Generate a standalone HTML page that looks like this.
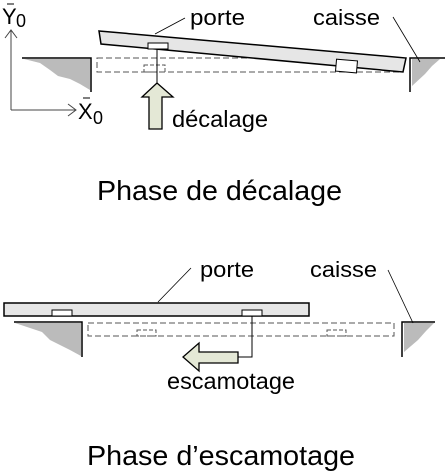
<!DOCTYPE html>
<html><head><meta charset="utf-8"><style>body{margin:0;background:#fff}svg{display:block}text{font-family:"Liberation Sans",Arial,sans-serif;fill:#000}</style></head>
<body>
<svg width="445" height="472" viewBox="0 0 445 472" xmlns="http://www.w3.org/2000/svg">
<!-- axes -->
<g stroke="#444" stroke-width="1" fill="none">
<line x1="11" y1="30" x2="11" y2="110"/><line x1="11" y1="110" x2="76" y2="110"/>
<polyline points="5,38 11,30 17,38"/><polyline points="68,104 76,110 68,116"/>
</g>
<text x="2" y="24" font-size="22">Y</text><text x="16" y="27" font-size="18">0</text>
<line x1="7" y1="4" x2="14" y2="4" stroke="#000"/>
<text x="78" y="119" font-size="22">X</text><text x="93" y="124" font-size="18">0</text>
<line x1="83" y1="98" x2="90" y2="98" stroke="#000"/>

<!-- top walls -->
<polygon points="24,59 90,59 90,90 80,84 70,79 58,76 50,70 40,63" fill="#bbb"/>
<polyline points="22,58 91,58 91,92" fill="none" stroke="#000" stroke-width="1.5"/>
<polygon points="412,59 440,59 432,66 425,74 412,86" fill="#bbb"/>
<polyline points="410,92 410,58 445,58" fill="none" stroke="#000" stroke-width="1.5"/>
<!-- dashed -->
<rect x="97" y="58" width="306" height="14" fill="none" stroke="#555" stroke-dasharray="6,3"/>
<rect x="144" y="65" width="21" height="7" fill="none" stroke="#555" stroke-dasharray="4,2"/>
<!-- porte tilted -->
<polygon points="99,31 406,58 403,72 101,44" fill="#e6e6e6" stroke="#000" stroke-width="1.5"/>
<rect x="148" y="43" width="20" height="6" fill="#fff" stroke="#000"/>
<rect x="336" y="60" width="21" height="12" fill="#fff" stroke="#000" transform="rotate(5 346 66)"/>
<line x1="157" y1="49" x2="157" y2="85" stroke="#000"/>
<polygon points="149,129 162,129 162,97 173,97 157,83 142,97 149,97" fill="#e4e8d6" stroke="#000" stroke-width="1.3"/>
<text x="190" y="25" font-size="22" textLength="55" lengthAdjust="spacingAndGlyphs">porte</text>
<line x1="185" y1="18" x2="155" y2="34" stroke="#000" stroke-width="0.8"/>
<text x="313" y="25" font-size="22" textLength="67" lengthAdjust="spacingAndGlyphs">caisse</text>
<line x1="393" y1="17" x2="420" y2="62" stroke="#000" stroke-width="0.8"/>
<text x="172" y="127" font-size="23" textLength="96" lengthAdjust="spacingAndGlyphs">décalage</text>
<text x="97" y="200" font-size="28" textLength="245" lengthAdjust="spacingAndGlyphs">Phase de décalage</text>

<!-- bottom -->
<polygon points="15,323 81,323 81,356 70,350 60,345 50,340 42,332" fill="#bbb"/>
<polyline points="14,322 82,322 82,357" fill="none" stroke="#000" stroke-width="1.5"/>
<polygon points="404,323 434,323 426,331 418,340 404,352" fill="#bbb"/>
<polyline points="402,357 402,322 435,322" fill="none" stroke="#000" stroke-width="1.5"/>
<rect x="88" y="323" width="306" height="13" fill="none" stroke="#555" stroke-dasharray="6,3"/>
<rect x="137" y="330" width="19" height="6" fill="none" stroke="#555" stroke-dasharray="4,2"/>
<rect x="327" y="330" width="19" height="6" fill="none" stroke="#555" stroke-dasharray="4,2"/>
<rect x="4" y="303" width="305" height="13" fill="#e6e6e6" stroke="#000" stroke-width="1.5"/>
<rect x="52" y="310" width="20" height="6" fill="#fff" stroke="#000"/>
<rect x="242" y="310" width="20" height="6" fill="#fff" stroke="#000"/>
<polyline points="252,316 252,357 238,357" fill="none" stroke="#000"/>
<polygon points="238,352 238,363 199,363 199,371 183,357 199,343 199,352" fill="#e4e8d6" stroke="#000" stroke-width="1.3"/>
<text x="200" y="277" font-size="22" textLength="54" lengthAdjust="spacingAndGlyphs">porte</text>
<line x1="191" y1="268" x2="158" y2="302" stroke="#000" stroke-width="0.8"/>
<text x="310" y="277" font-size="22" textLength="67" lengthAdjust="spacingAndGlyphs">caisse</text>
<line x1="388" y1="270" x2="413" y2="323" stroke="#000" stroke-width="0.8"/>
<text x="167" y="389" font-size="23" textLength="128" lengthAdjust="spacingAndGlyphs">escamotage</text>
<text x="87" y="465" font-size="28" textLength="268" lengthAdjust="spacingAndGlyphs">Phase d’escamotage</text>
</svg>
</body></html>
